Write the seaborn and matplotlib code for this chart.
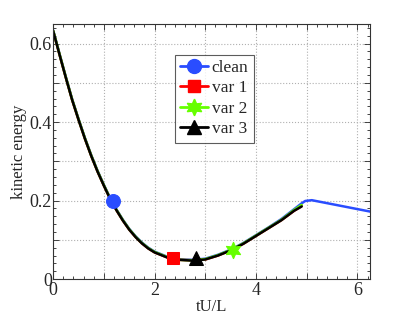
import matplotlib
matplotlib.use("Agg")
import matplotlib.pyplot as plt
import matplotlib.ticker as mticker
import seaborn as sns
import pandas as pd

# ---- data ----
t_var = [0, 0.125, 0.25, 0.375, 0.5, 0.625, 0.75, 0.875, 1.0, 1.125, 1.25, 1.375, 1.5,
         1.625, 1.75, 1.875, 2.0, 2.25, 2.5, 2.75, 3.0, 3.25, 3.5, 3.75, 4.0, 4.25,
         4.5, 4.75, 4.9]
t_clean = t_var + [4.97, 5.1, 6.25]

ke_clean = [0.634, 0.574, 0.515, 0.458, 0.408, 0.360, 0.316, 0.276, 0.240, 0.206, 0.177,
            0.151, 0.128, 0.109, 0.093, 0.080, 0.070, 0.057, 0.050, 0.049, 0.052, 0.062,
            0.075, 0.092, 0.112, 0.132, 0.153, 0.178, 0.193, 0.199, 0.201, 0.172]
ke_var1 = [0.632, 0.572, 0.513, 0.456, 0.406, 0.358, 0.314, 0.274, 0.238, 0.204, 0.175,
           0.149, 0.126, 0.107, 0.091, 0.078, 0.068, 0.055, 0.049, 0.048, 0.050, 0.060,
           0.073, 0.090, 0.110, 0.130, 0.150, 0.174, 0.186]
ke_var2 = [0.633, 0.573, 0.514, 0.457, 0.407, 0.359, 0.315, 0.275, 0.239, 0.205, 0.176,
           0.150, 0.127, 0.108, 0.092, 0.079, 0.069, 0.056, 0.049, 0.048, 0.051, 0.061,
           0.074, 0.091, 0.111, 0.131, 0.151, 0.176, 0.189]
ke_var3 = [0.632, 0.572, 0.513, 0.456, 0.406, 0.358, 0.314, 0.274, 0.238, 0.204, 0.175,
           0.149, 0.126, 0.107, 0.091, 0.078, 0.068, 0.055, 0.049, 0.047, 0.050, 0.060,
           0.073, 0.090, 0.110, 0.130, 0.150, 0.174, 0.185]

labels = ["clean", "var 1", "var 2", "var 3"]
marker_t = [1.18, 2.36, 3.54, 2.82]
marker_ke = [0.2, 0.053, 0.075, 0.054]

colors = ["#2a4dff", "#ff0000", "#66ff00", "#000000"]
markers = ["o", "s", (6, 1, 0), "^"]
msizes = [10, 9, 12, 10]

series = [(t_clean, ke_clean), (t_var, ke_var1), (t_var, ke_var2), (t_var, ke_var3)]

sns.set_style("ticks")
plt.rcParams['font.family'] = ['Liberation Serif', 'DejaVu Serif']

fig = plt.figure(figsize=(4.09, 3.15), dpi=100)
ax = fig.add_axes([0.130, 0.114, 0.775, 0.81])

for (tx, ky), c in zip(series, colors):
    df = pd.DataFrame({"t": tx, "ke": ky})
    sns.lineplot(data=df, x="t", y="ke", color=c, lw=1.8, ax=ax,
                 estimator=None, sort=False, legend=False)

handles = []
for i in range(4):
    dfm = pd.DataFrame({"t": [marker_t[i]], "ke": [marker_ke[i]]})
    sns.lineplot(data=dfm, x="t", y="ke", color=colors[i], marker=markers[i],
                 markersize=msizes[i], markeredgecolor=colors[i], ax=ax,
                 estimator=None, legend=False, lw=0)
    h, = ax.plot([], [], color=colors[i], marker=markers[i], markersize=msizes[i],
                 lw=2, label=labels[i])
    handles.append(h)

ax.set_xlim(0, 6.25)
ax.set_ylim(0, 0.65)
ax.xaxis.set_major_locator(mticker.MultipleLocator(1))
ax.xaxis.set_minor_locator(mticker.MultipleLocator(0.2))
ax.yaxis.set_major_locator(mticker.MultipleLocator(0.1))
ax.yaxis.set_minor_locator(mticker.MultipleLocator(0.02))
ax.xaxis.set_major_formatter(mticker.FuncFormatter(
    lambda v, p: ("%d" % round(v)) if round(v) % 2 == 0 else ""))
ax.yaxis.set_major_formatter(mticker.FuncFormatter(
    lambda v, p: ("0" if abs(v) < 1e-9 else ("%.1f" % v)) if round(v * 10) % 2 == 0 else ""))
ax.grid(True, which="major", ls=":", color="#b0b0b0", lw=0.8)
ax.tick_params(which="both", direction="in", top=True, right=True, labelsize=13)
ax.tick_params(axis="x", pad=2)
ax.tick_params(axis="y", pad=1)
ax.tick_params(which="major", length=4, width=0.6)
ax.tick_params(which="minor", length=2, width=0.6)
for s in ax.spines.values():
    s.set_linewidth(0.8)
    s.set_color("#333333")

ax.set_xlabel("tU/L", fontsize=12, labelpad=0)
ax.set_ylabel("kinetic energy", fontsize=12, labelpad=2)

leg = ax.legend(handles=handles, loc="upper left", bbox_to_anchor=(0.385, 0.88),
                fontsize=12.5, frameon=True, fancybox=False, edgecolor="#333333",
                handlelength=1.6, handletextpad=0.2, borderpad=0.3, labelspacing=0.25,
                borderaxespad=0)
leg.get_frame().set_linewidth(0.8)

fig.savefig("out.png", dpi=100)
